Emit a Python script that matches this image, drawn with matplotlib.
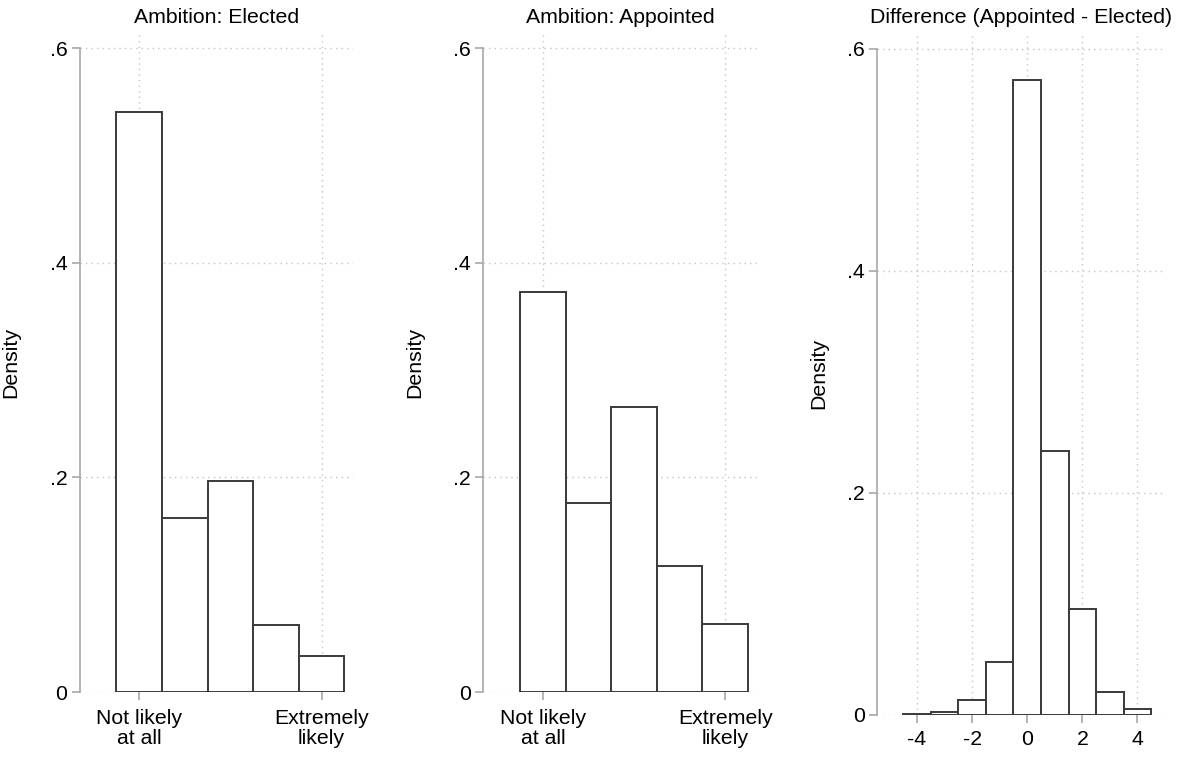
import matplotlib.pyplot as plt

# ambition scale 1..5 (density)
ambition_cats = [1, 2, 3, 4, 5]
elected_density = [0.540, 0.162, 0.197, 0.062, 0.034]
appointed_density = [0.373, 0.176, 0.266, 0.117, 0.063]
ambition_ticks = [1, 5]
ambition_ticklabels = ["Not likely\nat all", "Extremely\nlikely"]

# difference appointed - elected
diff_cats = [-4, -3, -2, -1, 0, 1, 2, 3, 4]
diff_density = [0.001, 0.003, 0.0135, 0.0477, 0.572, 0.238, 0.0953, 0.0207, 0.0054]
diff_ticks = [-4, -2, 0, 2, 4]

y_ticks = [0, 0.2, 0.4, 0.6]
y_ticklabels = ["0", ".2", ".4", ".6"]

plt.rcParams['font.family'] = ['Liberation Sans', 'DejaVu Sans']
FS = 15.3
AXIS_C = '#a8a8a8'
EDGE_C = '#3a3a3a'

W, H = 1187, 757
fig = plt.figure(figsize=(W / 100, H / 100), dpi=100)


def make_axes(left, right, top, bottom):
    return fig.add_axes([left / W, 1 - bottom / H, (right - left) / W, (bottom - top) / H])


def style(ax, title, ylabel_x, xpad):
    ax.set_axisbelow(True)
    ax.grid(True, linestyle=(0, (1, 3)), color='#c4c4c4', linewidth=1.0)
    for s in ['top', 'right', 'bottom']:
        ax.spines[s].set_visible(False)
    ax.spines['left'].set_color(AXIS_C)
    ax.spines['left'].set_linewidth(1.2)
    ax.spines['left'].set_bounds(0, 0.6)
    ax.set_ylim(0, 0.614)
    ax.set_yticks(y_ticks)
    ax.set_yticklabels(y_ticklabels)
    ax.tick_params(axis='both', colors=AXIS_C, labelcolor='black', labelsize=FS,
                   length=6, width=1.2)
    ax.tick_params(axis='y', pad=3)
    ax.tick_params(axis='x', pad=xpad)
    ax.set_title(title, fontsize=FS, pad=7)
    ax.set_ylabel("Density", fontsize=FS)
    ax.yaxis.set_label_coords(ylabel_x, 0.5)


ax1 = make_axes(80, 353, 33, 692)
ax1.bar(ambition_cats, elected_density, width=1, color='white', edgecolor=EDGE_C, linewidth=1.4)
ax1.set_xlim(-0.3, 5.69)
ax1.set_xticks(ambition_ticks)
ax1.set_xticklabels(ambition_ticklabels, linespacing=1.1)
style(ax1, "Ambition: Elected", -0.22, 6)

ax2 = make_axes(483, 757, 33, 692)
ax2.bar(ambition_cats, appointed_density, width=1, color='white', edgecolor=EDGE_C, linewidth=1.4)
ax2.set_xlim(-0.32, 5.70)
ax2.set_xticks(ambition_ticks)
ax2.set_xticklabels(ambition_ticklabels, linespacing=1.1)
style(ax2, "Ambition: Appointed", -0.215, 6)

ax3 = make_axes(877, 1165, 33, 715)
ax3.bar(diff_cats, diff_density, width=1, color='white', edgecolor=EDGE_C, linewidth=1.4)
ax3.set_xlim(-5.45, 5.0)
ax3.set_xticks(diff_ticks)
ax3.set_xticklabels([str(t) for t in diff_ticks])
style(ax3, "Difference (Appointed - Elected)", -0.17, 5)

fig.savefig("out.png", dpi=100)
